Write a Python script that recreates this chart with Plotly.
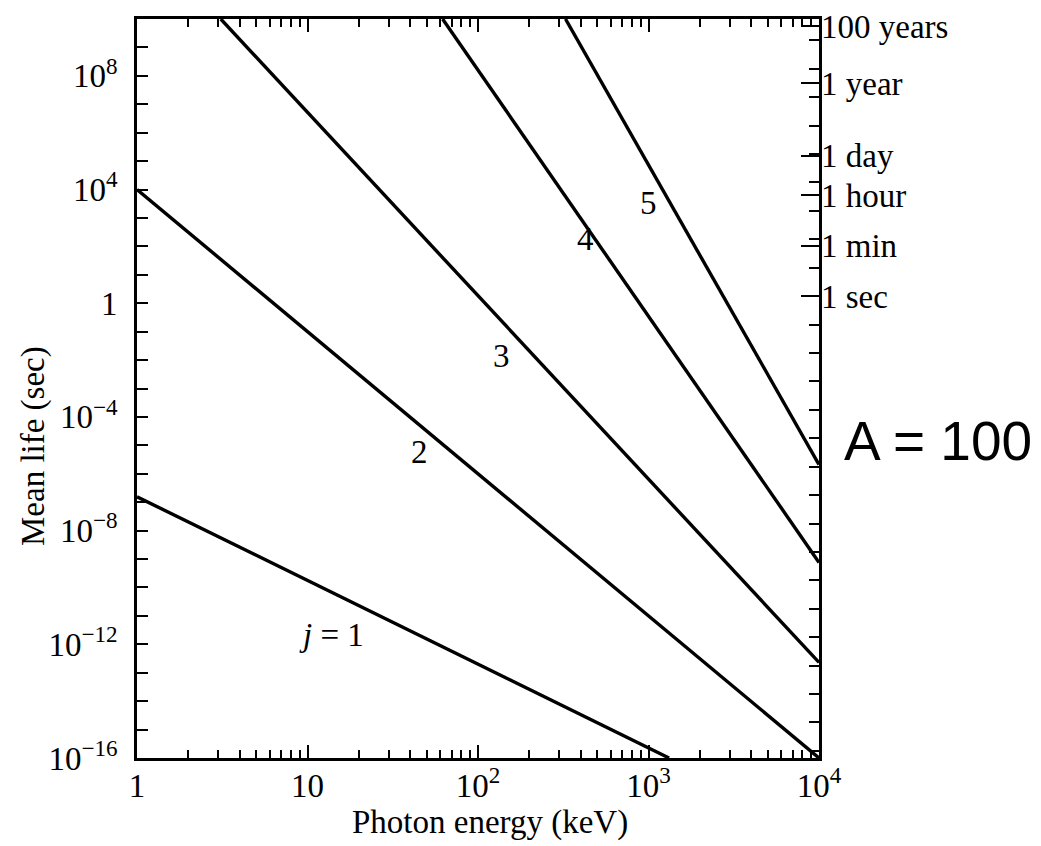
import numpy as np
import plotly.graph_objects as go

# ---- Data (log-log straight lines, endpoints) ----
energy_j1 = [1.0, 1320.0]
life_j1 = [1.55e-7, 1e-16]
energy_j2 = [1.0, 1e4]
life_j2 = [1e4, 1e-16]
energy_j3 = [3.1, 1e4]
life_j3 = [1e10, 2.3e-13]
energy_j4 = [62.0, 1e4]
life_j4 = [1e10, 7.6e-10]
energy_j5 = [326.0, 1e4]
life_j5 = [1e10, 2.1e-6]

series = [
    (energy_j1, life_j1),
    (energy_j2, life_j2),
    (energy_j3, life_j3),
    (energy_j4, life_j4),
    (energy_j5, life_j5),
]

# line labels: text, log10(energy), log10(life)
label_text = ["<i>j</i> = 1", "2", "3", "4", "5"]
label_logx = [1.14, 1.656, 2.14, 2.63, 3.00]
label_logy = [-11.67, -5.23, -1.84, 2.25, 3.51]

# x tick labels
x_tickvals = [1, 10, 100, 1000, 10000]
x_ticktext = ["1", "10", "10<sup>2</sup>", "10<sup>3</sup>", "10<sup>4</sup>"]

# y tick labels (every decade ticked, every 4th labelled)
y_decades = list(range(-16, 11))
y_label_map = {8: "10<sup>8</sup>", 4: "10<sup>4</sup>", 0: "1", -4: "10<sup>\u22124</sup>",
               -8: "10<sup>\u22128</sup>", -12: "10<sup>\u221212</sup>", -16: "10<sup>\u221216</sup>"}

# right-hand time scale
time_values = [1.0, 60.0, 3600.0, 86400.0, 3.156e7, 3.156e9]
time_labels = ["1 sec", "1 min", "1 hour", "1 day", "1 year", "100 years"]

SERIF = "Liberation Serif"
RIGHT_SHIFT = 0.25  # right-hand scale sits slightly higher in the (tilted) scan

fig = go.Figure()
for ex, ly in series:
    fig.add_trace(go.Scatter(x=ex, y=ly, mode="lines",
                             line=dict(color="black", width=3.4),
                             showlegend=False, hoverinfo="skip"))

# invisible trace for the right-hand time axis
fig.add_trace(go.Scatter(x=[10], y=[1], yaxis="y2", mode="markers",
                         marker=dict(opacity=0), showlegend=False, hoverinfo="skip"))

minor_x = [m * 10 ** d for d in range(0, 4) for m in range(2, 10)]

fig.update_layout(
    width=1041, height=846, autosize=False,
    margin=dict(l=129, r=230, t=11, b=96, autoexpand=False),
    paper_bgcolor="white", plot_bgcolor="white",
    font=dict(family=SERIF, color="black", size=30),
    xaxis=dict(
        type="log", range=[0, 4], automargin=False,
        tickvals=x_tickvals, ticktext=x_ticktext,
        ticks="inside", ticklen=13, tickwidth=2, tickcolor="black",
        showline=True, linewidth=2.8, linecolor="black", mirror="ticks",
        showgrid=False, zeroline=False,
        tickfont=dict(family=SERIF, size=33),
        ticklabelstandoff=-4,
        minor=dict(tickvals=minor_x, ticks="inside", ticklen=8, tickwidth=1.8,
                   tickcolor="black", showgrid=False),
    ),
    yaxis=dict(
        type="log", range=[-16, 10], automargin=False,
        tickvals=[10.0 ** k for k in y_decades],
        ticktext=[y_label_map.get(k, "") for k in y_decades],
        ticks="inside", ticklen=11, tickwidth=2, tickcolor="black",
        showline=True, linewidth=2.8, linecolor="black", mirror=True,
        showgrid=False, zeroline=False,
        tickfont=dict(family=SERIF, size=33),
        ticklabelstandoff=10,
    ),
    yaxis2=dict(
        type="log", range=[-16 - RIGHT_SHIFT, 10 - RIGHT_SHIFT], overlaying="y", side="right",
        automargin=False,
        tickvals=time_values, ticktext=time_labels,
        ticks="inside", ticklen=18, tickwidth=2, tickcolor="black",
        showline=False, showgrid=False, zeroline=False,
        tickfont=dict(family=SERIF, size=33),
        ticklabelstandoff=1,
        minor=dict(tickvals=[10.0 ** k for k in y_decades], ticks="inside", ticklen=10,
                   tickwidth=2, tickcolor="black", showgrid=False),
    ),
)

for t, lx, ly in zip(label_text, label_logx, label_logy):
    fig.add_annotation(x=lx, y=ly, xref="x", yref="y", text=t, showarrow=False,
                       xanchor="center", yanchor="middle",
                       font=dict(family=SERIF, size=33, color="black"))

fig.add_annotation(x=(489 - 136) / 682, y=(757 - 821) / 739, xref="paper", yref="paper",
                   text="Photon energy (keV)", showarrow=False,
                   xanchor="center", yanchor="middle",
                   font=dict(family=SERIF, size=33, color="black"))
fig.add_annotation(x=(32 - 136) / 682, y=(757 - 445) / 739, xref="paper", yref="paper",
                   text="Mean life (sec)", showarrow=False, textangle=-90,
                   xanchor="center", yanchor="middle",
                   font=dict(family=SERIF, size=33, color="black"))
fig.add_annotation(x=(937 - 136) / 682, y=(757 - 440) / 739, xref="paper", yref="paper",
                   text="A = 100", showarrow=False,
                   xanchor="center", yanchor="middle",
                   font=dict(family="Liberation Sans", size=55, color="black"))

fig.write_html("out.html")
